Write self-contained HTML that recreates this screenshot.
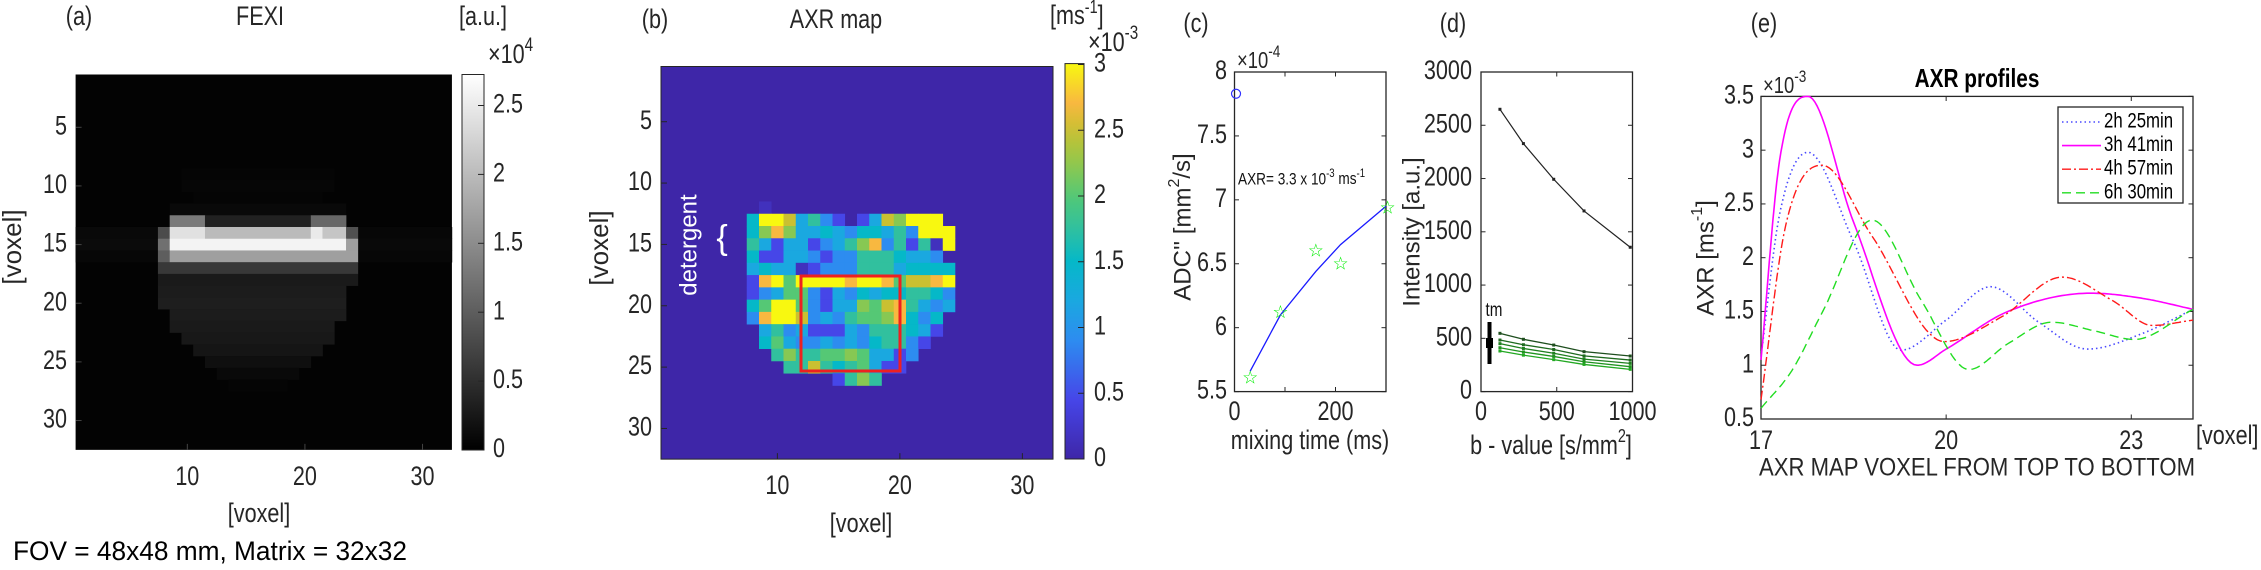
<!DOCTYPE html>
<html><head><meta charset="utf-8">
<style>
html,body{margin:0;padding:0;background:#fff;}
svg{display:block;font-family:"Liberation Sans",Arial,sans-serif;}
</style></head>
<body>
<svg id="fig" width="2261" height="570" viewBox="0 0 2261 570" xmlns="http://www.w3.org/2000/svg"></svg>
<script>
// ---------- data ----------
// FEXI image spans: [row, colStart, colEnd, value x1e4]
const fexiSpans = [
 [8,9,21,0.05],[9,9,21,0.06],[10,10,20,0.05],[11,8,22,0.1],
 [12,8,10,1.3],[12,11,19,0.35],[12,20,22,1.1],
 [13,0,6,0.1],[13,24,31,0.08],[13,7,7,0.8],[13,8,10,2.4],[13,11,19,2.0],[13,20,20,2.5],[13,21,22,2.1],[13,23,23,0.85],
 [14,0,6,0.12],[14,24,31,0.1],[14,7,7,1.2],[14,8,22,2.6],[14,23,23,1.7],
 [15,0,6,0.08],[15,24,31,0.07],[15,7,7,1.0],[15,8,23,1.7],
 [16,7,23,0.6],[17,7,23,0.28],[18,7,22,0.3],[19,7,22,0.32],[20,8,22,0.3],
 [21,8,21,0.28],[22,9,21,0.26],[23,10,20,0.22],[24,11,19,0.16],[25,12,18,0.1],[26,13,17,0.05]
];
const fexiCbTicks = [0,0.5,1,1.5,2,2.5];
const voxelTicksY = [5,10,15,20,25,30];
const voxelTicksX = [10,20,30];
// AXR map rows 11..25, columns 7..23 (x1e-3 ms^-1), 0 = background
const axrRowStart = 11, axrColStart = 7;
const axrRows = [
 [0,.15,0,0,0,0,0,0,0,0,0,0,0,0,0,0,0],
 [1.5,3,3,2.5,1.2,1.75,.9,.45,0,.45,1.2,2.5,2.2,3,3,3,0],
 [1.5,2.2,2.7,2.2,1.2,1.2,1.5,1.2,.9,1.5,1.5,1.2,1.75,.9,3,3,3],
 [1.75,1.2,.45,1.2,1.2,.45,.9,1.2,1.75,2.2,2.7,.9,1.75,.45,1.75,.15,3],
 [1.5,.45,.45,1.2,1.2,.9,.45,.9,.9,1.75,1.75,1.75,1.5,1.2,1.2,.9,0],
 [1.2,1.5,1.2,1.2,.15,.45,.9,.9,.9,1.75,1.75,1.75,1.2,1.5,1.5,1.5,1.5],
 [.45,2.7,3,2,3,3,3,3,2.7,3,3,2.7,2,2.5,2.5,2.7,3],
 [.45,.9,1.2,2,2,.9,.45,1.2,.9,1.5,1.2,1.5,1.5,1.75,1.75,1.5,.9],
 [1.5,2,3,3,2,.9,.45,1.2,1.2,2.2,2,2.5,2.7,1.75,1.2,.9,1.2],
 [.9,2.7,3,3,2.5,.9,1.2,.9,1.75,2,2,2.2,2.7,1.5,.9,1.5,0],
 [0,1.2,1.75,.9,1.2,.45,.45,.45,1.2,.9,1.75,1.75,1.75,1.5,1.2,.45,0],
 [0,1.5,2,1.2,.9,.9,1.2,.9,1.2,.9,1.5,1.75,1.75,.9,.45,0,0],
 [0,0,1.75,2.2,1.75,1.75,2,2,2.2,2,1.2,1.2,.45,.9,0,0,0],
 [0,0,0,1.75,1.75,2.5,1.75,1.5,1.75,2,1.2,.45,.45,0,0,0,0],
 [0,0,0,0,0,0,0,.45,1.75,2.2,1.75,0,0,0,0,0,0]
];
const axrCbTicks = [0,0.5,1,1.5,2,2.5,3];
// panel c: ADC'' vs mixing time
const mixTimes = [31,91,161,210,303];
const adcStars = [5.61,6.12,6.60,6.50,6.94];
const fitTimes = [31,91,161,210,300];
const fitAdc = [5.66,6.1,6.44,6.65,6.95];
const circleT = [3], circleAdc = [7.83];
const cTicksY = [5.5,6,6.5,7,7.5,8];
const cTicksX = [0,200];
// panel d: intensity vs b-value
const bVals = [125,280,480,680,985];
const blackInt = [2650,2328,1993,1696,1355];
const greenInt = [
 [547,491,437,375,334],
 [484,440,395,335,296],
 [450,405,360,305,265],
 [412,372,330,280,234],
 [381,342,300,255,209]
];
const dTicksY = [0,500,1000,1500,2000,2500,3000];
const dTicksX = [0,500,1000];
// panel e: AXR profiles
const eSeriesNames = ["2h 25min","3h 41min","4h 57min","6h 30min"];
const eX1 = [17,17.3,17.76,18.5,19.27,20,20.72,21.5,22.29,23.2,24];
const eY1 = [1.08,2.4,2.98,2.15,1.14,1.42,1.73,1.4,1.15,1.3,1.52];
const eX2 = [17,17.3,17.76,18.5,19.53,20,21,22.35,23.2,24];
const eY2 = [1.05,2.9,3.5,2.33,1.0,1.15,1.5,1.67,1.62,1.52];
const eX3 = [17,17.4,17.99,18.8,19.97,20.9,21.88,22.7,23.34,24];
const eY3 = [0.68,2.3,2.86,2.2,1.22,1.45,1.82,1.6,1.37,1.42];
const eX4 = [17,17.5,18,18.8,19.6,20.37,21.0,21.71,22.4,23.05,24];
const eY4 = [0.6,0.95,1.5,2.35,1.6,0.96,1.2,1.40,1.32,1.24,1.52];
const eTicksY = [0.5,1,1.5,2,2.5,3,3.5];
const eTicksX = [17,20,23];

// ---------- helpers ----------
const NS = "http://www.w3.org/2000/svg";
const svg = document.getElementById("fig");
function mk(tag, attrs, parent){
  const e = document.createElementNS(NS, tag);
  for (const k in attrs) e.setAttribute(k, attrs[k]);
  (parent||svg).appendChild(e);
  return e;
}
const condList = [];
function txt(s, x, y, size, anchor, extra, wide){
  const a = Object.assign({x:x,y:y,'font-size':size,'text-anchor':anchor||'middle','dominant-baseline':'middle',fill:'#262626'}, extra||{});
  const t = mk('text', a);
  t.textContent = s;
  if(!wide && !(extra && extra.textLength)) condList.push(t);
  return t;
}
function group(name){
  const g = mk('g',{});
  
  
  return g;
}
function hex2rgb(h){return [parseInt(h.substr(1,2),16),parseInt(h.substr(3,2),16),parseInt(h.substr(5,2),16)];}
const parStops = [[0,'#3e26a8'],[0.15,'#4646e8'],[0.3,'#2d8cf0'],[0.4,'#1aa8e0'],[0.5,'#05b8c8'],[0.58,'#30c0a0'],[0.66,'#50c878'],[0.74,'#8cc850'],[0.83,'#c8c030'],[0.9,'#f8b840'],[1,'#f8f810']];
function parula(t){
  t=Math.max(0,Math.min(1,t));
  for(let i=1;i<parStops.length;i++){
    if(t<=parStops[i][0]){
      const a=parStops[i-1],b=parStops[i];
      const f=(t-a[0])/(b[0]-a[0]);
      const ca=hex2rgb(a[1]),cb=hex2rgb(b[1]);
      return 'rgb('+ca.map((v,j)=>Math.round(v+(cb[j]-v)*f)).join(',')+')';
    }
  }
  return '#f8f810';
}

// ---------- panel a ----------
const aX0=75.6,aY0=74.5,aCW=11.76,aRH=11.73,aMax=2.725;
const ga = group('fexi-panel');
mk('rect',{x:aX0,y:aY0,width:aCW*32,height:aRH*32,fill:'#030303'},ga);
fexiSpans.forEach(s=>{
  const g=Math.round(Math.min(1,s[3]/aMax)*255);
  const r=mk('rect',{x:aX0+s[1]*aCW,y:aY0+s[0]*aRH,width:(s[2]-s[1]+1)*aCW+0.3,height:aRH+0.3,fill:'rgb('+g+','+g+','+g+')'},ga);
  
  
});
voxelTicksY.forEach(v=>{
  const y=aY0+(v-0.5)*aRH;
  mk('line',{x1:aX0,x2:aX0+6,y1:y,y2:y,stroke:'#444','stroke-width':1},ga);
  txt(String(v),67,y,27,'end');
});
voxelTicksX.forEach(v=>{
  const x=aX0+(v-0.5)*aCW;
  mk('line',{x1:x,x2:x,y1:aY0+aRH*32,y2:aY0+aRH*32-6,stroke:'#444','stroke-width':1},ga);
  txt(String(v),x,478,27);
});
// colorbar a
const defs=mk('defs',{});
const lg=mk('linearGradient',{id:'grayg',x1:0,y1:1,x2:0,y2:0},defs);
mk('stop',{offset:0,'stop-color':'#000'},lg);mk('stop',{offset:1,'stop-color':'#fff'},lg);
const cba=mk('rect',{x:462,y:74.5,width:22,height:375.5,fill:'url(#grayg)',stroke:'#262626','stroke-width':1});


fexiCbTicks.forEach(v=>{
  const y=450-v*137.8;
  mk('line',{x1:478,x2:484,y1:y,y2:y,stroke:'#262626'});
  txt(String(v),493,y,27,'start');
});
const t1=txt('\u00d710',488,56,27,'start'); const sp=mk('tspan',{'font-size':19,dy:-10},t1); sp.textContent='4';
txt('(a)',79,18,27);
txt('FEXI',260,18,27);
txt('[a.u.]',483,18,27);
txt('[voxel]',259,515,27);
const yl=txt('[voxel]',14,247,26,'middle',{transform:'rotate(-90 14 247)'},true);


txt('FOV = 48x48 mm, Matrix = 32x32',13,553,27,'start',{fill:'#000',textLength:394,lengthAdjust:'spacingAndGlyphs'});

// ---------- panel b ----------
const bX0=661,bY0=66.5,bCW=12.25,bRH=12.27;
const gb=group('axr-map-panel');
mk('rect',{x:bX0,y:bY0,width:bCW*32,height:bRH*32,fill:parula(0)},gb);
axrRows.forEach((row,ri)=>{
  row.forEach((v,ci)=>{
    if(v<=0) return;
    const c=mk('rect',{x:bX0+(axrColStart+ci)*bCW,y:bY0+(axrRowStart+ri)*bRH,width:bCW+0.3,height:bRH+0.3,fill:parula(v/3)},gb);
    
    
  });
});
mk('rect',{x:bX0,y:bY0,width:bCW*32,height:bRH*32,fill:'none',stroke:'#262626','stroke-width':1},gb);
const roi=mk('rect',{x:801,y:276,width:99,height:95,fill:'none',stroke:'#ee2020','stroke-width':3},gb);


voxelTicksY.forEach(v=>{
  const y=bY0+(v-0.5)*bRH;
  mk('line',{x1:bX0,x2:bX0+6,y1:y,y2:y,stroke:'#262626'},gb);
  txt(String(v),652,y,27,'end');
});
voxelTicksX.forEach(v=>{
  const x=bX0+(v-0.5)*bCW;
  mk('line',{x1:x,x2:x,y1:bY0+bRH*32,y2:bY0+bRH*32-6,stroke:'#262626'},gb);
  txt(String(v),x,487,27);
});
const pg=mk('linearGradient',{id:'parg',x1:0,y1:1,x2:0,y2:0},defs);
for(let i=0;i<=20;i++){mk('stop',{offset:i/20,'stop-color':parula(i/20)},pg);}
const cbb=mk('rect',{x:1065,y:63.6,width:19,height:395.4,fill:'url(#parg)',stroke:'#262626','stroke-width':1});


axrCbTicks.forEach(v=>{
  const y=459-v*131.5;
  mk('line',{x1:1078,x2:1084,y1:y,y2:y,stroke:'#262626'});
  txt(String(v),1094,y,27,'start');
});
const t2=txt('\u00d710',1088,44,27,'start'); const sp2=mk('tspan',{'font-size':19,dy:-10},t2); sp2.textContent='-3';
txt('(b)',655,21,27);
txt('AXR map',836,21,27);
const t3=txt('[ms',1050,17,27,'start'); const sp3=mk('tspan',{'font-size':18,dy:-9},t3); sp3.textContent='-1'; const sp4=mk('tspan',{dy:9},t3); sp4.textContent=']';
txt('[voxel]',861,525,27);
txt('[voxel]',601,248,26,'middle',{transform:'rotate(-90 601 248)'},true);
const det=txt('detergent',690,245,24,'middle',{fill:'#fff',transform:'rotate(-90 690 245)'},true);


txt('{',722,240,34,'middle',{fill:'#fff'},true);

// ---------- panel c ----------
const xC=v=>1234.5+v/300*151.5, yC=v=>391.6-(v-5.5)/2.5*319.6;
const gc=group('adc-panel');
mk('rect',{x:1234.5,y:72,width:151.5,height:319.6,fill:'none',stroke:'#262626','stroke-width':1.3},gc);
cTicksY.forEach(v=>{
  const y=yC(v);
  mk('line',{x1:1234.5,x2:1239,y1:y,y2:y,stroke:'#262626'},gc);
  mk('line',{x1:1386,x2:1381.5,y1:y,y2:y,stroke:'#262626'},gc);
  txt(String(v),1227,y,27,'end');
});
[0,100,200,300].forEach(v=>{
  const x=xC(v);
  mk('line',{x1:x,x2:x,y1:391.6,y2:387,stroke:'#262626'},gc);
  mk('line',{x1:x,x2:x,y1:72,y2:76.5,stroke:'#262626'},gc);
});
cTicksX.forEach(v=>txt(String(v),xC(v),413,27));
const fit=mk('polyline',{points:fitTimes.map((t,i)=>xC(t)+','+yC(fitAdc[i])).join(' '),fill:'none',stroke:'#1a1aff','stroke-width':1.3},gc);


mixTimes.forEach((t,i)=>{
  const s=txt('\u2606',xC(t),yC(adcStars[i])+1,18,'middle',{fill:'#00ee00'},true);
  
  
});
circleT.forEach((t,i)=>{
  const c=mk('circle',{cx:xC(t),cy:yC(circleAdc[i]),r:4.5,fill:'none',stroke:'#3030ff','stroke-width':1.2},gc);
  
  
});
const t4=txt('\u00d710',1237,62,23,'start'); const sp5=mk('tspan',{'font-size':17,dy:-9},t4); sp5.textContent='-4';
txt('(c)',1196,25,27);
const ann=txt('AXR= 3.3 x 10',1238,180,17,'start',{fill:'#111'});
const sa=mk('tspan',{'font-size':12,dy:-6},ann); sa.textContent='-3';
const sb=mk('tspan',{dy:6},ann); sb.textContent=' ms';
const sc=mk('tspan',{'font-size':12,dy:-6},ann); sc.textContent='-1';
txt('mixing time (ms)',1310,442,27);
const yc=txt("ADC'' [mm",1184,227,24,'middle',{transform:'rotate(-90 1184 227)'},true);
const sd=mk('tspan',{'font-size':16,dy:-9},yc); sd.textContent='2';
const se=mk('tspan',{dy:9},yc); se.textContent='/s]';

// ---------- panel d ----------
const xD=v=>1481+v/1000*151.5, yD=v=>391.6-v/3000*319.6;
const gd=group('intensity-panel');
mk('rect',{x:1481,y:72,width:151.5,height:319.6,fill:'none',stroke:'#262626','stroke-width':1.3},gd);
dTicksY.forEach(v=>{
  const y=yD(v);
  mk('line',{x1:1481,x2:1485.5,y1:y,y2:y,stroke:'#262626'},gd);
  mk('line',{x1:1632.5,x2:1628,y1:y,y2:y,stroke:'#262626'},gd);
  txt(String(v),1472,y,27,'end');
});
dTicksX.forEach(v=>{
  const x=xD(v);
  mk('line',{x1:x,x2:x,y1:391.6,y2:387,stroke:'#262626'},gd);
  mk('line',{x1:x,x2:x,y1:72,y2:76.5,stroke:'#262626'},gd);
  txt(String(v),x,413,27);
});
const bl=mk('polyline',{points:bVals.map((b,i)=>xD(b)+','+yD(blackInt[i])).join(' '),fill:'none',stroke:'#222','stroke-width':1.2},gd);


bVals.forEach((b,i)=>mk('rect',{x:xD(b)-1.5,y:yD(blackInt[i])-1.5,width:3,height:3,fill:'#222'},gd));
const gcols=['#1e4e1e','#1f6a1f','#1f801f','#209420','#22a822'];
greenInt.forEach((ser,si)=>{
  const l=mk('polyline',{points:bVals.map((b,i)=>xD(b)+','+yD(ser[i])).join(' '),fill:'none',stroke:gcols[si],'stroke-width':1.3},gd);
  
  
  bVals.forEach((b,i)=>mk('rect',{x:xD(b)-1.5,y:yD(ser[i])-1.5,width:3,height:3,fill:gcols[si]},gd));
});
mk('rect',{x:1487.5,y:322,width:4,height:42,fill:'#000'},gd);
mk('rect',{x:1486,y:338,width:7,height:10,fill:'#000'},gd);
txt('tm',1494,311,19,'middle',{fill:'#111'});
txt('(d)',1453,25,27);
const xd=txt('b - value [s/mm',1551,447,27);
const sf=mk('tspan',{'font-size':18,dy:-10},xd); sf.textContent='2';
const sg=mk('tspan',{dy:10},xd); sg.textContent=']';
txt('Intensity [a.u.]',1413,232,24,'middle',{transform:'rotate(-90 1413 232)'},true);

// ---------- panel e ----------
const xE=v=>1761+(v-17)/7*432, yE=v=>419-(v-0.5)/3*322.6;
const ge=group('axr-profiles-panel');
mk('rect',{x:1761,y:96.4,width:432,height:322.6,fill:'none',stroke:'#262626','stroke-width':1.3},ge);
eTicksY.forEach(v=>{
  const y=yE(v);
  mk('line',{x1:1761,x2:1765.5,y1:y,y2:y,stroke:'#262626'},ge);
  mk('line',{x1:2193,x2:2188.5,y1:y,y2:y,stroke:'#262626'},ge);
  txt(String(v),1754,y,27,'end');
});
eTicksX.forEach(v=>{
  const x=xE(v);
  mk('line',{x1:x,x2:x,y1:419,y2:414.5,stroke:'#262626'},ge);
  mk('line',{x1:x,x2:x,y1:96.4,y2:101,stroke:'#262626'},ge);
  txt(String(v),x,442,27);
});
function monotone(xs,ys){
  const n=xs.length,d=[],m=[];
  for(let i=0;i<n-1;i++) d.push((ys[i+1]-ys[i])/(xs[i+1]-xs[i]));
  m[0]=d[0]; m[n-1]=d[n-2];
  for(let i=1;i<n-1;i++){ m[i]=(d[i-1]*d[i]<=0)?0:(d[i-1]+d[i])/2; }
  for(let i=0;i<n-1;i++){
    if(d[i]===0){m[i]=0;m[i+1]=0;continue;}
    const a=m[i]/d[i],b=m[i+1]/d[i],s=a*a+b*b;
    if(s>9){const t=3/Math.sqrt(s);m[i]=t*a*d[i];m[i+1]=t*b*d[i];}
  }
  const pts=[];
  for(let i=0;i<n-1;i++){
    const h=xs[i+1]-xs[i];
    for(let k=0;k<20;k++){
      const t=k/20,h00=2*t*t*t-3*t*t+1,h10=t*t*t-2*t*t+t,h01=-2*t*t*t+3*t*t,h11=t*t*t-t*t;
      pts.push([xs[i]+t*h, h00*ys[i]+h10*h*m[i]+h01*ys[i+1]+h11*h*m[i+1]]);
    }
  }
  pts.push([xs[n-1],ys[n-1]]);
  return pts;
}
const eStyles=[
 {stroke:'#4a4aff','stroke-dasharray':'1.5 3','stroke-width':1.6},
 {stroke:'#ff00ff','stroke-width':1.6},
 {stroke:'#ff1a1a','stroke-dasharray':'9 3 2 3','stroke-width':1.4},
 {stroke:'#22dd22','stroke-dasharray':'9 5','stroke-width':1.4}
];
const eData=[[eX1,eY1],[eX2,eY2],[eX3,eY3],[eX4,eY4]];
const eIds=['profile-2h25','profile-3h41','profile-4h57','profile-6h30'];
eData.forEach((sd,si)=>{
  const pts=monotone(sd[0],sd[1]);
  const p=mk('polyline',Object.assign({points:pts.map(q=>xE(q[0]).toFixed(1)+','+yE(q[1]).toFixed(1)).join(' '),fill:'none'},eStyles[si]),ge);
  
  
});
const leg=mk('g',{});


mk('rect',{x:2058,y:107,width:125,height:96,fill:'#fff',stroke:'#262626','stroke-width':1.3},leg);
eSeriesNames.forEach((nm,i)=>{
  const y=122+i*23.6;
  const l=mk('line',Object.assign({x1:2062,x2:2101,y1:y,y2:y},eStyles[i]),leg);
  
  
  const t=txt(nm,2104,y,21,'start',{fill:'#000'});
  
  
  leg.appendChild(t);
});
const t5=txt('\u00d710',1763,87,23,'start'); const sh=mk('tspan',{'font-size':17,dy:-9},t5); sh.textContent='-3';
txt('AXR profiles',1977,80,26,'middle',{'font-weight':'bold',fill:'#000'});
txt('(e)',1764,25,27);
txt('[voxel]',2196,437,27,'start');
txt('AXR MAP VOXEL FROM TOP TO BOTTOM',1977,469,25,'middle',{textLength:436,lengthAdjust:'spacingAndGlyphs'});
const ye=txt('AXR [ms',1707,258,24,'middle',{transform:'rotate(-90 1707 258)'},true);
const si1=mk('tspan',{'font-size':16,dy:-9},ye); si1.textContent='-1';
const si2=mk('tspan',{dy:9},ye); si2.textContent=']';

// condense Calibri-like labels
condList.forEach(t=>{
  const w=t.getComputedTextLength();
  if(w>0){
    t.setAttribute('textLength',(w*0.8).toFixed(1));
    t.setAttribute('lengthAdjust','spacingAndGlyphs');
  }
});
</script>
</body></html>
